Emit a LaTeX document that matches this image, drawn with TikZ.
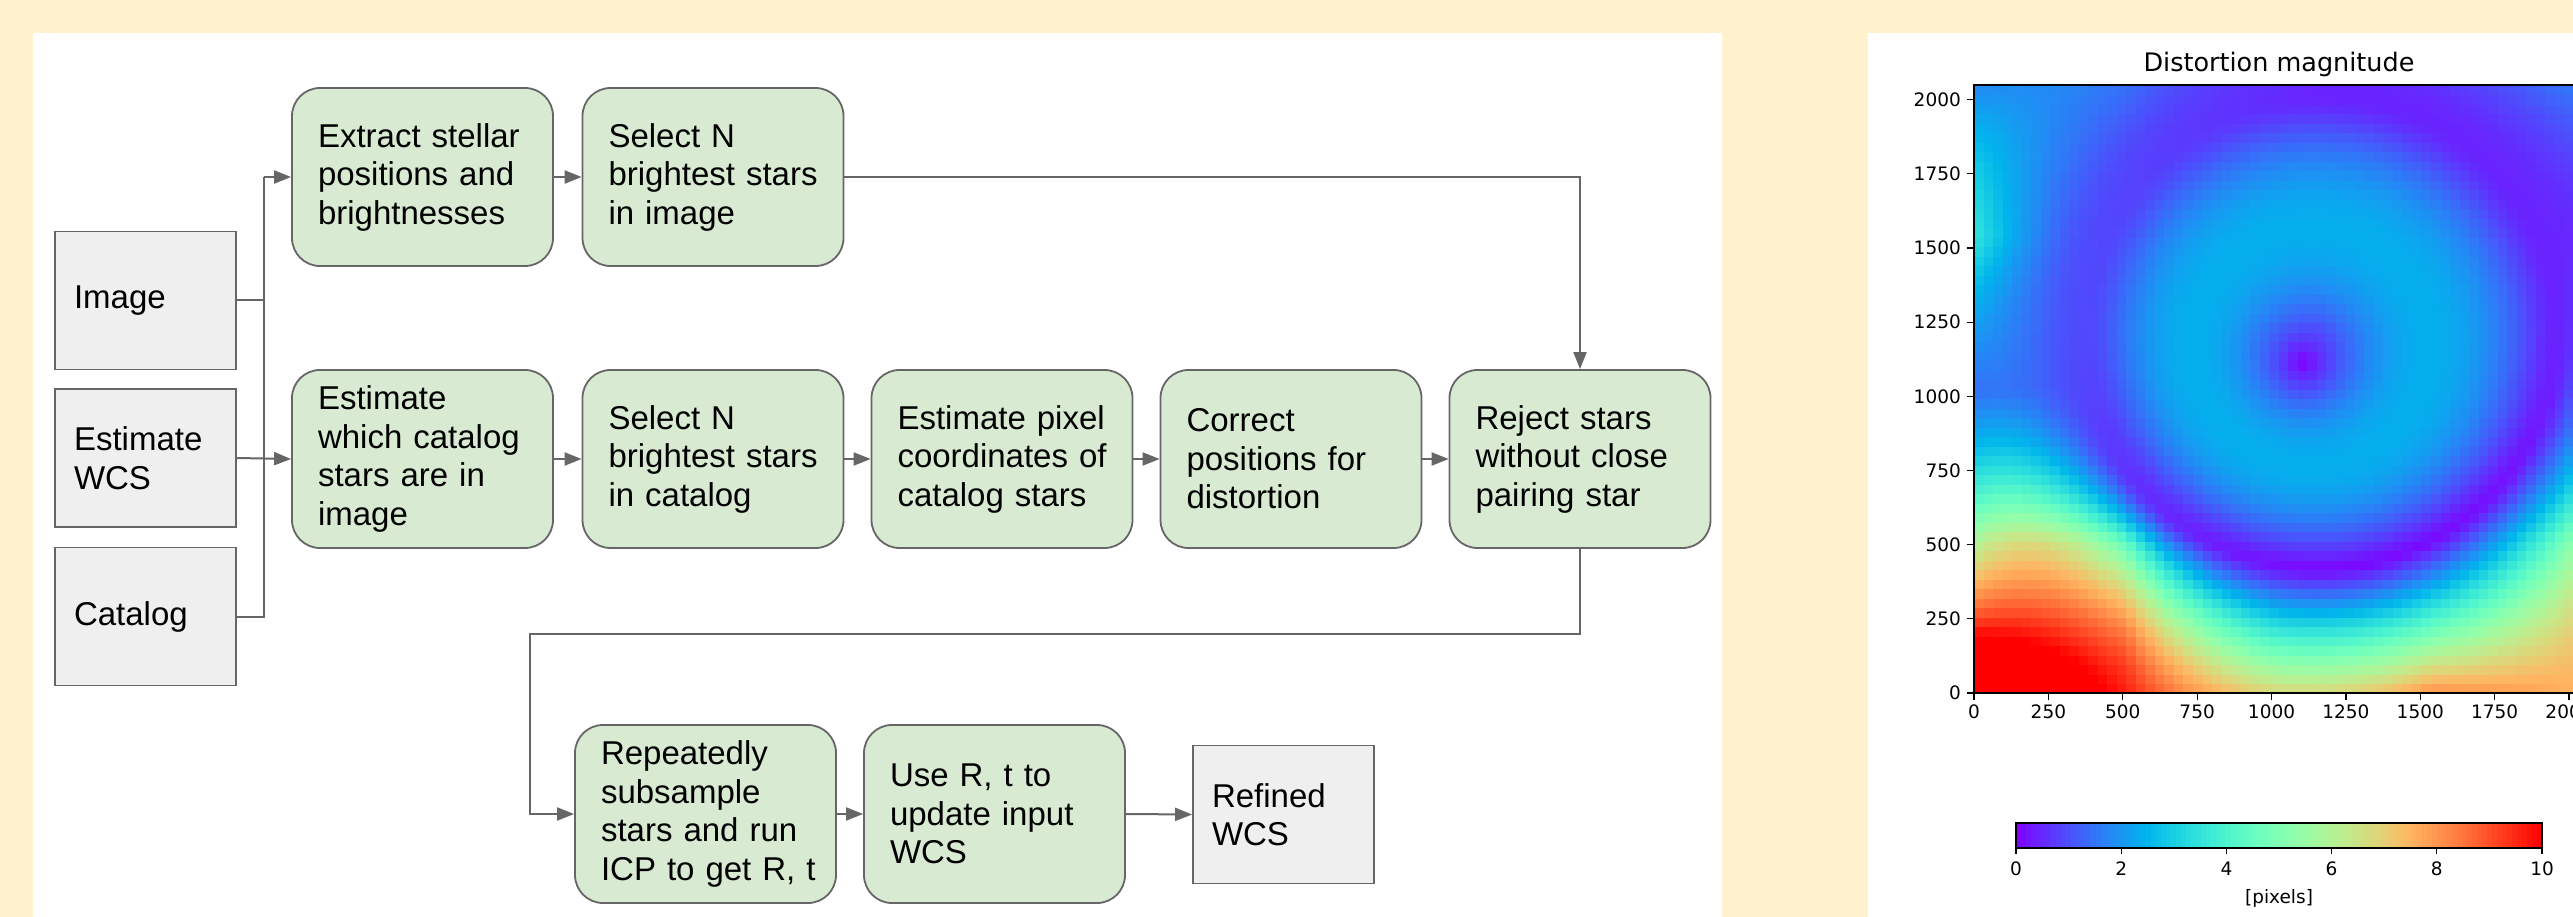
\documentclass[tikz,border=0pt]{standalone}
\usepackage{fontspec}
\setmainfont{Liberation Sans}
\newfontfamily\mplfont{DejaVu Sans}
\usetikzlibrary{arrows.meta}
\definecolor{cream}{HTML}{FFF2CC}
\definecolor{gfill}{HTML}{D9EAD3}
\definecolor{grfill}{HTML}{EFEFEF}
\definecolor{edge}{HTML}{666666}
\def\Sg{{1.5,1.65,1.6,1.7,1.05, 1.05,2.7,1.7,1.7,1.68, 0.3,1.0,1.5,1.7,1.2, 0.85,0.6,0.5,0.3,0.2, 0.25,0.5,0.3,0.4,0.4}}
\begin{document}
\begin{tikzpicture}[x=1pt,y=-1pt,
  boxtext/.style={font=\fontsize{33}{38.5}\selectfont, align=left},
  gbox/.style={boxtext, draw=edge, line width=1.8pt, fill=gfill, rounded corners=28pt,
    minimum height=178pt, text width=209pt, inner xsep=26pt},
  graybox/.style={boxtext, draw=edge, line width=1.8pt, fill=grfill,
    minimum height=138pt, text width=143pt, inner xsep=19pt},
  conn/.style={draw=edge, line width=2pt},
  arr/.style={conn, -{Triangle[length=17pt,width=13pt]}},
  mpl/.style={font=\mplfont\fontsize{18.5}{22}\selectfont, text=black, inner sep=0pt}
]
\useasboundingbox (0,0) rectangle (2573,917);
\fill[cream] (0,0) rectangle (2573,917);
\fill[white] (33,33) rectangle (1722,917);
\fill[white] (1868,33) rectangle (2573,917);

% ---------------- flowchart ----------------
\node[graybox] (img) at (145.5,300.5) {Image};
\node[graybox] (wcs) at (145.5,458) {Estimate\\WCS};
\node[graybox] (cat) at (145.5,616.5) {Catalog};

\node[gbox] (ext) at (422.5,177) {Extract~stellar\\positions~and\\brightnesses};
\node[gbox] (selimg) at (713,177) {Select~N\\brightest~stars\\in~image};

\node[gbox] (est) at (422.5,459) {Estimate\\which~catalog\\stars~are~in\\image};
\node[gbox] (selcat) at (713,459) {Select~N\\brightest~stars\\in~catalog};
\node[gbox] (pix) at (1002,459) {Estimate~pixel\\coordinates~of\\catalog~stars};
\node[gbox] (cor) at (1291,459) {Correct\\positions~for\\distortion};
\node[gbox] (rej) at (1580,459) {Reject~stars\\without~close\\pairing~star};

\node[gbox] (rep) at (705.5,814) {Repeatedly\\subsample\\stars~and~run\\ICP~to~get~R,~t};
\node[gbox] (use) at (994.5,814) {Use~R,~t~to\\update~input\\WCS};
\node[graybox] (ref) at (1283.5,814.5) {Refined\\WCS};

\coordinate (jt) at (264,177);
\coordinate (lp) at (530,634);

\draw[conn] (img.east) -- (img.east -| jt);
\draw[conn] (cat.east) -| (jt);
\draw[arr] (jt) -- (ext.west);
\draw[arr] (wcs.east) -- (est.west);
\draw[arr] (ext.east) -- (selimg.west);
\draw[arr] (selimg.east) -| (rej.north);
\draw[arr] (est.east) -- (selcat.west);
\draw[arr] (selcat.east) -- (pix.west);
\draw[arr] (pix.east) -- (cor.west);
\draw[arr] (cor.east) -- (rej.west);
\draw[arr] (rej.south) |- (lp) |- (rep.west);
\draw[arr] (rep.east) -- (use.west);
\draw[arr] (use.east) -- (ref.west);

% ---------------- heat map ----------------
\begin{scope}
\clip (1974,85) rectangle (2573,693);
\foreach \i in {0,...,63}{
  \foreach \j in {0,...,63}{
    \pgfmathsetmacro\Hx{0.32*\i+0.16}
    \pgfmathsetmacro\Hy{0.32*\j+0.16}
    \pgfmathsetmacro\Hdx{\Hx-11.6}
    \pgfmathsetmacro\Hdy{\Hy-12.2}
    \pgfmathsetmacro\Hr{sqrt(\Hdx*\Hdx+\Hdy*\Hdy)}
    \pgfmathsetmacro\Hm{0.45+0.5*max(0,-(\Hdx)/\Hr)-0.35*max(0,-(\Hdy)/\Hr)}
    \ifdim\Hr pt<8pt
      \pgfmathsetmacro\Hd{sqrt((\Hx-11.06)*(\Hx-11.06)+(\Hy-11.15)*(\Hy-11.15))}
      \pgfmathsetmacro\Hq{\Hd/(\Hd+8-\Hr)}
      \pgfmathsetmacro\HF{2.4*sin(180*\Hq)}
      \pgfmathsetmacro\HL{\Hm*\Hq*\Hq}
      \pgfmathsetmacro\Hv{sqrt(\HF*\HF+\HL*\HL)}
    \else
      \pgfmathtruncatemacro\Hi{min(3,floor(\Hx/5.12))}
      \pgfmathtruncatemacro\Hj{min(3,floor(\Hy/5.12))}
      \pgfmathsetmacro\Hu{\Hx/5.12-\Hi}
      \pgfmathsetmacro\Hw{\Hy/5.12-\Hj}
      \pgfmathtruncatemacro\HkA{5*\Hj+\Hi}
      \pgfmathtruncatemacro\HkB{\HkA+1}
      \pgfmathtruncatemacro\HkC{\HkA+5}
      \pgfmathtruncatemacro\HkD{\HkA+6}
      \pgfmathsetmacro\HsA{\Sg[\HkA]}
      \pgfmathsetmacro\HsB{\Sg[\HkB]}
      \pgfmathsetmacro\HsC{\Sg[\HkC]}
      \pgfmathsetmacro\HsD{\Sg[\HkD]}
      \pgfmathsetmacro\HS{(1-\Hw)*((1-\Hu)*\HsA+\Hu*\HsB)+\Hw*((1-\Hu)*\HsC+\Hu*\HsD)}
      \pgfmathsetmacro\HO{\HS*(\Hr-8)}
      \pgfmathsetmacro\Hv{sqrt(\HO*\HO+\Hm*\Hm)}
    \fi
    \pgfmathsetmacro\Ht{min(1,\Hv/10)}
    \pgfmathsetmacro\HR{min(1,abs(2*\Ht-0.5))}
    \pgfmathsetmacro\HG{sin(180*\Ht)}
    \pgfmathsetmacro\HB{cos(90*\Ht)}
    \definecolor{cellc}{rgb}{\HR,\HG,\HB}
    \fill[cellc] ({1974+9.52*\i},{693-9.494*(\j+1)}) rectangle +(10.1,10.1);
  }
}
\end{scope}
\draw[black, line width=1.3pt] (1974,85) rectangle (2583,693);

\node[font=\mplfont\fontsize{25.5}{30}\selectfont] (title) at (2279,64) {Distortion magnitude};

\foreach \k in {0,...,8}{
  \pgfmathsetmacro\py{693-74.175*\k}
  \pgfmathtruncatemacro\lab{250*\k}
  \draw[black, line width=1.2pt] (1967,\py) -- (1974,\py);
  \node[mpl, anchor=east] (yt\k) at (1961,\py) {\lab};
}
\foreach \k in {0,...,8}{
  \pgfmathsetmacro\px{1974+74.375*\k}
  \pgfmathtruncatemacro\lab{250*\k}
  \draw[black, line width=1.2pt] (\px,693) -- (\px,700);
  \node[mpl, anchor=north] (xt\k) at (\px,705) {\lab};
}

% ---------------- colour bar ----------------
\foreach \k in {0,...,104}{
  \pgfmathsetmacro\Ht{(\k+0.5)/105}
  \pgfmathsetmacro\HR{min(1,abs(2*\Ht-0.5))}
  \pgfmathsetmacro\HG{sin(180*\Ht)}
  \pgfmathsetmacro\HB{cos(90*\Ht)}
  \definecolor{cellc}{rgb}{\HR,\HG,\HB}
  \fill[cellc] ({2016+5.0095*\k},823) rectangle +(5.6,25);
}
\draw[black, line width=1.2pt] (2016,823) rectangle (2542,848);
\foreach \k in {0,...,5}{
  \pgfmathsetmacro\px{2016+105.2*\k}
  \pgfmathtruncatemacro\lab{2*\k}
  \draw[black, line width=1.2pt] (\px,848) -- (\px,854);
  \node[mpl, anchor=north] (ct\k) at (\px,862) {\lab};
}
\node[mpl] (unit) at (2279,898) {[pixels]};
\end{tikzpicture}
\end{document}
